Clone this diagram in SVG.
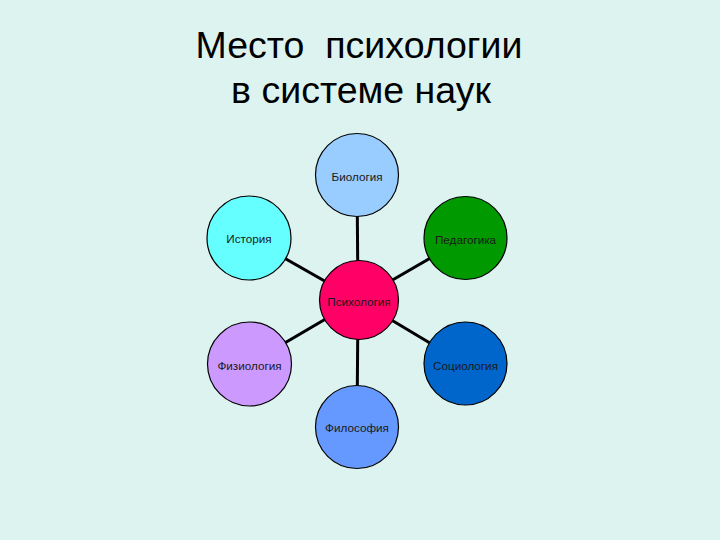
<svg xmlns="http://www.w3.org/2000/svg" width="720" height="540" viewBox="0 0 720 540">
<style>
.bg{fill:#DCF3F0}
.title{font-family:"Liberation Sans",Arial,sans-serif;font-size:37.5px;fill:#000;text-anchor:middle;white-space:pre}
.node circle{stroke:#000;stroke-width:1.2}
.node text{font-family:"Liberation Sans",Arial,sans-serif;font-size:11.7px;fill:#1a1a1a;text-anchor:middle;dominant-baseline:central}
.conn line{stroke:#000;stroke-width:3}
</style>
<rect class="bg" x="0" y="0" width="720" height="540"/>
<text class="title" x="359" y="58" xml:space="preserve">Место  психологии</text>
<text class="title" x="361" y="103">в системе наук</text>
<g id="connectors" class="conn">
<line x1="357" y1="175" x2="358" y2="300"/>
<line x1="249" y1="238" x2="358" y2="300"/>
<line x1="465" y1="238" x2="358" y2="300"/>
<line x1="249" y1="364" x2="358" y2="300"/>
<line x1="465" y1="364" x2="358" y2="300"/>
<line x1="357" y1="427" x2="358" y2="300"/>
</g>
<g id="biology" class="node"><circle cx="357" cy="175" r="41.5" fill="#99CCFF"/><text x="357" y="176">Биология</text></g>
<g id="history" class="node"><circle cx="249" cy="238" r="42" fill="#66FFFF"/><text x="249" y="238">История</text></g>
<g id="pedagogy" class="node"><circle cx="465.5" cy="238" r="41.5" fill="#009900"/><text x="465.5" y="239">Педагогика</text></g>
<g id="psychology" class="node"><circle cx="359" cy="300" r="39.5" fill="#FF0066"/><text x="359" y="301">Психология</text></g>
<g id="physiology" class="node"><circle cx="249.5" cy="364" r="42" fill="#CC99FF"/><text x="249.5" y="365">Физиология</text></g>
<g id="sociology" class="node"><circle cx="465.5" cy="363.5" r="41.5" fill="#0066CC"/><text x="465.5" y="365">Социология</text></g>
<g id="philosophy" class="node"><circle cx="357" cy="427" r="41.5" fill="#6699FF"/><text x="357" y="427">Философия</text></g>
</svg>
